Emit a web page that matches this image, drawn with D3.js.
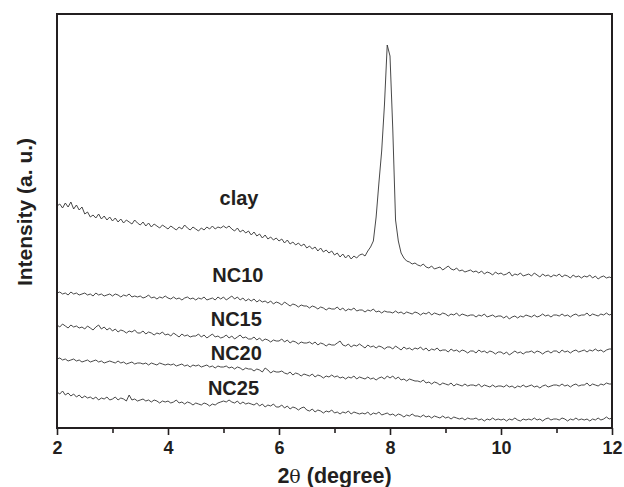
<!DOCTYPE html>
<html><head><meta charset="utf-8">
<script src="https://cdn.jsdelivr.net/npm/d3@7"></script>
<style>
html,body{margin:0;padding:0;background:#fff;}
svg{display:block;font-family:"Liberation Sans",Arial,Helvetica,sans-serif;}
</style></head>
<body>
<svg id="chart" width="624" height="487"></svg>
<script>
// 2θ grid: 2.00 to 12.00 step 0.05 (201 points)
const twoThetaStart = 2, twoThetaStep = 0.05, nPoints = 201;
const seriesNames = ["clay", "NC10", "NC15", "NC20", "NC25"];
const xTicks = [2, 4, 6, 8, 10, 12];
const xMinorTicks = [3, 5, 7, 9, 11];

// Intensity (a.u., offset stacked)
const clay = [
 222,224,220,225,221,226,219,223,218,221,
 214,216,211,213,210,214,209,212,208,211,
 207,210,206,209,205,208,206,204,208,205,
 203,206,202,205,201,204,202,200,203,201,
 199,202,200,198,201,199,203,200,198,201,
 199,197,200,198,201,199,202,199,201,200,
 202,200,202,199,197,200,196,198,195,197,
 193,196,192,194,190,193,189,191,188,190,
 187,189,185,188,184,186,183,185,182,184,
 180,182,179,181,177,180,176,178,175,177,
 173,175,171,174,170,173,169,172,170,173,
 174,172,177,181,187,211,245,277,323,383,
 372,299,208,187,175,170,167,166,164,165,
 163,162,164,161,160,162,159,160,161,158,
 160,162,159,158,160,157,158,156,157,158,
 156,157,155,157,154,156,155,153,156,154,
 155,153,154,156,152,154,153,155,152,153,
 154,152,155,153,151,154,152,153,151,153,
 152,154,151,153,152,150,153,151,152,150,
 152,151,153,150,152,149,151,152,150,151,
 150];
const nc10 = [
 135,136,134,135,133,136,134,135,133,134,
 135,133,134,132,135,133,134,132,133,134,
 132,134,133,131,133,132,134,131,132,131,
 132,130,131,133,130,131,129,131,130,132,
 130,129,131,129,130,128,130,131,129,130,
 128,130,129,131,128,129,130,128,131,129,
 131,128,130,132,129,131,128,130,127,129,
 127,129,126,128,126,127,125,127,124,126,
 125,123,126,124,122,124,123,121,123,122,
 122,120,122,121,119,121,120,118,120,119,
 119,121,118,120,117,119,118,120,117,118,
 118,116,118,117,119,116,117,115,117,116,
 116,115,117,115,116,114,116,115,114,116,
 115,113,115,114,116,113,115,114,113,115,
 114,112,114,113,115,112,114,113,112,113,
 113,111,113,112,114,111,112,113,111,112,
 112,110,112,109,111,112,110,112,111,113,
 112,111,113,111,112,114,112,113,111,113,
 113,112,114,112,113,111,113,114,112,113,
 113,115,112,114,113,112,114,113,115,113,
 114];
const nc15 = [
 103,101,104,102,100,103,101,102,100,101,
 99,102,100,98,101,103,99,101,98,100,
 97,99,96,98,97,95,97,96,98,95,
 95,97,94,96,95,93,95,94,96,93,
 94,92,95,93,91,94,92,93,91,92,
 92,94,91,93,90,92,94,91,92,90,
 91,93,90,92,89,91,93,90,91,89,
 89,91,88,90,87,89,88,86,88,87,
 87,89,86,88,85,87,86,84,86,85,
 85,86,84,86,83,85,84,82,84,83,
 83,85,87,83,82,84,81,83,82,84,
 82,80,83,81,82,80,82,81,79,81,
 81,79,82,80,78,81,79,80,78,80,
 79,81,78,80,77,79,78,80,77,78,
 78,76,79,77,78,76,78,77,75,77,
 77,75,78,76,77,75,77,76,74,76,
 76,74,76,73,75,77,75,76,74,76,
 76,77,75,77,76,74,76,77,75,77,
 77,75,78,76,77,75,77,78,76,77,
 78,76,78,77,79,77,78,76,78,79,
 79];
const nc20 = [
 69,70,68,69,67,68,69,67,68,66,
 67,68,66,67,68,66,67,65,66,67,
 66,65,67,65,66,64,65,66,64,65,
 65,64,65,63,65,64,63,65,64,63,
 64,63,64,62,63,64,62,63,61,63,
 62,63,61,62,63,61,62,60,62,61,
 61,62,60,61,59,61,60,58,60,59,
 59,57,59,58,56,60,58,55,57,56,
 56,57,55,54,56,53,55,54,52,54,
 53,52,54,51,53,52,50,52,51,53,
 51,52,50,51,49,51,50,52,49,51,
 50,49,51,49,50,48,50,51,49,52,
 50,52,49,51,48,49,47,49,48,47,
 47,46,48,45,46,44,46,45,43,45,
 44,43,45,42,44,43,42,44,42,43,
 43,42,44,41,43,42,41,43,41,42,
 42,41,43,41,42,40,42,41,43,41,
 42,43,41,42,40,42,43,41,42,43,
 43,42,44,42,43,41,43,44,42,43,
 43,45,42,44,43,42,44,43,45,44,
 44];
const nc25 = [
 36,34,37,33,35,32,34,31,33,30,
 32,30,31,29,31,28,30,29,31,28,
 29,31,28,30,29,27,33,28,29,27,
 28,29,27,28,26,28,27,25,27,26,
 27,25,26,28,25,26,24,26,25,23,
 25,24,23,25,24,22,24,23,25,26,
 27,26,28,26,25,27,24,26,24,25,
 24,23,25,22,24,21,23,22,24,21,
 21,23,20,22,19,21,20,18,20,21,
 18,17,19,16,18,17,15,17,16,18,
 15,16,14,16,15,17,14,16,15,14,
 15,14,16,13,15,14,16,13,14,15,
 13,14,12,14,13,11,13,12,14,12,
 12,11,13,11,12,10,12,11,10,12,
 10,11,9,11,10,9,10,8,10,9,
 9,10,8,9,7,9,8,10,8,9,
 8,9,7,9,8,10,8,7,9,8,
 9,8,10,8,9,7,9,10,8,9,
 9,8,10,9,7,9,8,10,8,9,
 8,9,7,9,8,10,8,9,11,9,
 10];
const seriesValues = [clay, nc10, nc15, nc20, nc25];

// label placement (2θ, intensity) for the curve names
const labelAt = [[5.28, 223], [5.26, 146], [5.23, 102], [5.23, 68], [5.18, 33]];

const W = 624, H = 487;
const margin = {top: 14, right: 12, bottom: 59, left: 57};
const iw = W - margin.left - margin.right, ih = H - margin.top - margin.bottom;
const ink = "#231f20";

const svg = d3.select("#chart");
const g = svg.append("g").attr("transform", `translate(${margin.left},${margin.top})`);

const x = d3.scaleLinear().domain([2, 12]).range([0, iw]);
const y = d3.scaleLinear().domain([0, 414]).range([ih, 0]);

const line = d3.line()
  .x((d, i) => x(twoThetaStart + i * twoThetaStep))
  .y(d => y(d));

g.selectAll("path.curve").data(seriesValues).join("path")
  .attr("class", "curve")
  .attr("d", d => line(d))
  .attr("fill", "none")
  .attr("stroke", "#333")
  .attr("stroke-width", 0.9)
  .attr("stroke-linejoin", "round");

// labels
g.selectAll("text.lbl").data(seriesNames).join("text")
  .attr("class", "lbl")
  .attr("x", (d, i) => x(labelAt[i][0]))
  .attr("y", (d, i) => y(labelAt[i][1]))
  .attr("text-anchor", "middle")
  .attr("font-size", 20)
  .attr("font-weight", "bold")
  .attr("fill", ink)
  .text(d => d);

// frame
g.append("rect").attr("x", 0).attr("y", 0).attr("width", iw).attr("height", ih)
  .attr("fill", "none").attr("stroke", ink).attr("stroke-width", 2);

// x axis
const xAxis = g.append("g").attr("transform", `translate(0,${ih})`)
  .call(d3.axisBottom(x).tickValues(xTicks).tickSize(7).tickPadding(6).tickFormat(d3.format("d")));
xAxis.select(".domain").remove();
xAxis.selectAll(".tick line").attr("stroke", ink).attr("stroke-width", 1.6);
xAxis.selectAll(".tick text").attr("font-size", 18).attr("font-weight", "bold")
  .attr("fill", ink).attr("font-family", "Liberation Sans, Arial, sans-serif");

const xMinor = g.append("g").attr("transform", `translate(0,${ih})`)
  .call(d3.axisBottom(x).tickValues(xMinorTicks).tickSize(5).tickFormat(""));
xMinor.select(".domain").remove();
xMinor.selectAll(".tick line").attr("stroke", ink).attr("stroke-width", 1.6);

// axis titles
const xt = svg.append("text")
  .attr("x", margin.left + iw / 2).attr("y", 483)
  .attr("text-anchor", "middle")
  .attr("font-size", 21.5).attr("font-weight", "bold").attr("fill", ink);
xt.append("tspan").text("2");
xt.append("tspan").attr("font-weight", "normal").attr("font-family", "DejaVu Serif, serif").attr("font-size", 19).text("θ");
xt.append("tspan").text(" (degree)");

svg.append("text")
  .attr("transform", `translate(32,212) rotate(-90)`)
  .attr("text-anchor", "middle")
  .attr("font-size", 21).attr("font-weight", "bold").attr("fill", ink)
  .text("Intensity (a. u.)");
</script>
</body></html>
